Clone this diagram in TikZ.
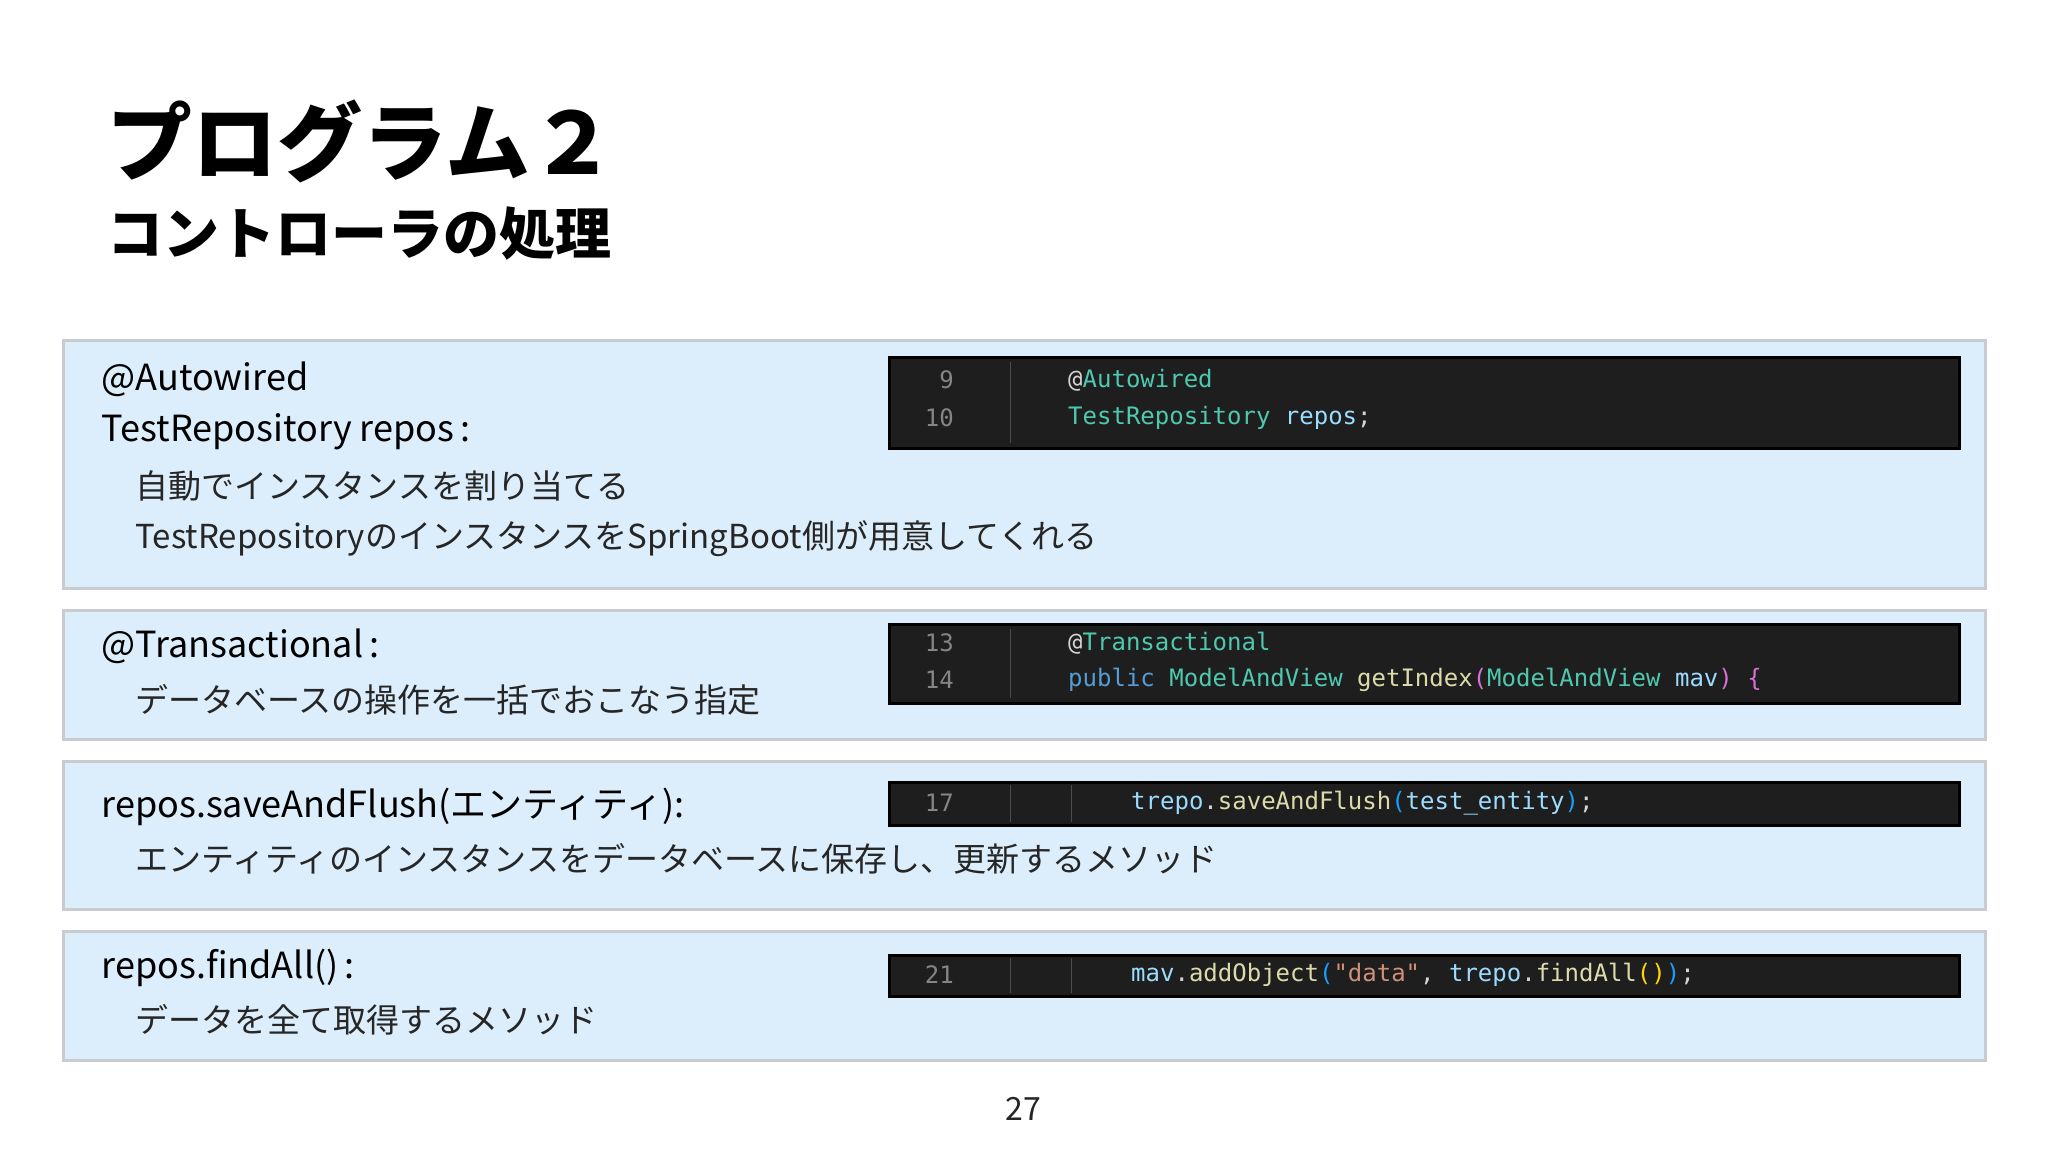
\documentclass[tikz,border=0pt]{standalone}
\usepackage{fontspec}
\setmainfont{Noto Sans CJK JP}
\setmonofont{DejaVu Sans Mono}
\definecolor{boxfill}{HTML}{DCEEFB}
\definecolor{boxline}{HTML}{C8CCD0}
\definecolor{codebg}{HTML}{1E1E1E}
\definecolor{lnum}{HTML}{858585}
\definecolor{ctype}{HTML}{4EC9B0}
\definecolor{cvar}{HTML}{9CDCFE}
\definecolor{ckey}{HTML}{569CD6}
\definecolor{cfun}{HTML}{DCDCAA}
\definecolor{cstr}{HTML}{CE9178}
\definecolor{cpink}{HTML}{DA70D6}
\definecolor{cgold}{HTML}{FFD700}
\definecolor{cblue}{HTML}{179FFF}
\definecolor{cpunc}{HTML}{D4D4D4}
\begin{document}
\begin{tikzpicture}[x=1pt,y=-1pt,
  panel/.style={fill=boxfill,draw=boxline,line width=3pt},
  codebox/.style={fill=codebg,draw=black,line width=3pt},
  head/.style={anchor=west,font=\fontsize{36}{40}\selectfont,text=black},
  body/.style={anchor=west,font=\fontsize{33}{38}\selectfont,text=black!85},
  code/.style={anchor=west,font=\ttfamily\fontsize{24}{28}\selectfont,inner sep=0pt},
  num/.style={anchor=east,font=\ttfamily\fontsize{24}{28}\selectfont,text=lnum,inner sep=0pt},
  sep/.style={draw=black!70,line width=1pt}]
\useasboundingbox (0,0) rectangle (2048,1152);
\fill[white] (0,0) rectangle (2048,1152);
\node[anchor=west,font=\fontsize{85}{90}\selectfont\bfseries] (title) at (104,141) {プログラム２};
\node[anchor=west,font=\fontsize{56}{60}\selectfont\bfseries] (sub) at (104,234) {コントローラの処理};
% panels
\draw[panel] (63,340) rectangle (1985,588);
\draw[panel] (63,610) rectangle (1985,739);
\draw[panel] (63,761) rectangle (1985,909);
\draw[panel] (63,931) rectangle (1985,1060);
% texts
\node[head] (t1) at (98,379) {@Autowired};
\node[head] (t2) at (98,432) {TestRepository repos\,:};
\node[body] (t3) at (132,486) {自動でインスタンスを割り当てる};
\node[body] (t4) at (132,539) {TestRepositoryのインスタンスをSpringBoot側が用意してくれる};
\node[head] (t5) at (98,646) {@Transactional\,:};
\node[body] (t6) at (132,700) {データベースの操作を一括でおこなう指定};
\node[head] (t7) at (98,807) {repos.saveAndFlush(エンティティ):};
\node[body] (t8) at (132,859) {エンティティのインスタンスをデータベースに保存し、更新するメソッド};
\node[head] (t9) at (98,968) {repos.findAll()\,:};
\node[body] (t10) at (132,1020) {データを全て取得するメソッド};
% code A
\draw[codebox] (889,357) rectangle (1959,448);
\draw[sep] (1010,362) -- (1010,443);
\node[num] (n9) at (954,380) {9};
\node[num] (n10) at (954,418) {10};
\node[code] (c1) at (1068,380) {\textcolor{cpunc}{@}\textcolor{ctype}{Autowired}};
\node[code] (c2) at (1068,418) {\textcolor{ctype}{TestRepository} \textcolor{cvar}{repos}\textcolor{cpunc}{;}};
% code B
\draw[codebox] (889,624) rectangle (1959,703);
\draw[sep] (1010,629) -- (1010,698);
\node[num] (n13) at (954,643) {13};
\node[num] (n14) at (954,680) {14};
\node[code] (c3) at (1068,643) {\textcolor{cpunc}{@}\textcolor{ctype}{Transactional}};
\node[code] (c4) at (1068,680) {\textcolor{ckey}{public} \textcolor{ctype}{ModelAndView} \textcolor{cfun}{getIndex}\textcolor{cpink}{(}\textcolor{ctype}{ModelAndView} \textcolor{cvar}{mav}\textcolor{cpink}{)} \textcolor{cpink}{\{}};
% code C
\draw[codebox] (889,782) rectangle (1959,825);
\draw[sep] (1010,785) -- (1010,822);
\draw[sep] (1071,785) -- (1071,822);
\node[num] (n17) at (954,803) {17};
\node[code] (c5) at (1131,803) {\textcolor{cvar}{trepo}\textcolor{cpunc}{.}\textcolor{cfun}{saveAndFlush}\textcolor{cblue}{(}\textcolor{cvar}{test\_entity}\textcolor{cblue}{)}\textcolor{cpunc}{;}};
% code D
\draw[codebox] (889,955) rectangle (1959,996);
\draw[sep] (1010,958) -- (1010,993);
\draw[sep] (1071,958) -- (1071,993);
\node[num] (n21) at (954,975) {21};
\node[code] (c6) at (1131,975) {\textcolor{cvar}{mav}\textcolor{cpunc}{.}\textcolor{cfun}{addObject}\textcolor{cblue}{(}\textcolor{cstr}{"data"}\textcolor{cpunc}{,} \textcolor{cvar}{trepo}\textcolor{cpunc}{.}\textcolor{cfun}{findAll}\textcolor{cgold}{()}\textcolor{cblue}{)}\textcolor{cpunc}{;}};
\node[font=\fontsize{32}{36}\selectfont,text=black!85] (pg) at (1023,1109) {27};
\end{tikzpicture}
\end{document}
